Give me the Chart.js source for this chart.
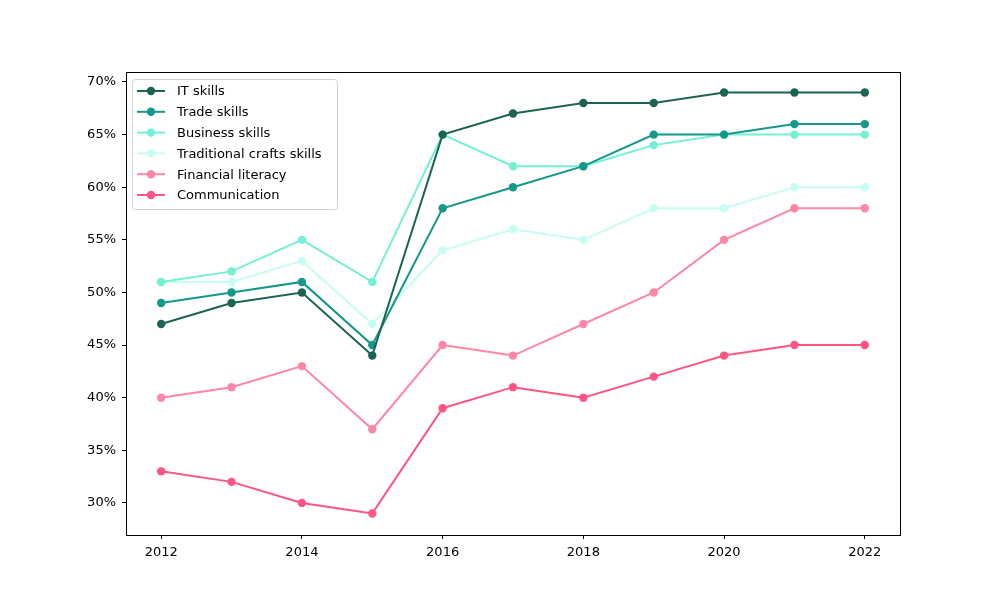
<!DOCTYPE html>
<html>
<head>
<meta charset="utf-8">
<script src="https://cdn.jsdelivr.net/npm/chart.js"></script>
<style>
  html, body { margin: 0; padding: 0; background: #fff; }
  #wrap { width: 1000px; height: 600px; }
</style>
</head>
<body>
<div id="wrap"><canvas id="chart" width="1000" height="600"></canvas></div>
<script>
// Skill shares by year (percent)
const years = [2012, 2013, 2014, 2015, 2016, 2017, 2018, 2019, 2020, 2021, 2022];
const itSkills = [47, 49, 50, 44, 65, 67, 68, 68, 69, 69, 69];
const tradeSkills = [49, 50, 51, 45, 58, 60, 62, 65, 65, 66, 66];
const businessSkills = [51, 52, 55, 51, 65, 62, 62, 64, 65, 65, 65];
const craftsSkills = [51, 51, 53, 47, 54, 56, 55, 58, 58, 60, 60];
const financialLiteracy = [40, 41, 43, 37, 45, 44, 47, 50, 55, 58, 58];
const communication = [33, 32, 30, 29, 39, 41, 40, 42, 44, 45, 45];

const seriesNames = ['IT skills', 'Trade skills', 'Business skills', 'Traditional crafts skills', 'Financial literacy', 'Communication'];
const seriesValues = [itSkills, tradeSkills, businessSkills, craftsSkills, financialLiteracy, communication];
const seriesColors = ['#1b6454', '#13988a', '#74f0d4', '#c6fdf4', '#ff86a4', '#ff5582'];

const xTicks = [2012, 2014, 2016, 2018, 2020, 2022];
const yTicks = [30, 35, 40, 45, 50, 55, 60, 65, 70];

const FONT = 'DejaVu Sans';

const datasets = seriesNames.map((name, i) => ({
    label: name,
    data: years.map((y, j) => ({ x: y, y: seriesValues[i][j] })),
    borderColor: seriesColors[i],
    backgroundColor: seriesColors[i],
    pointBackgroundColor: seriesColors[i],
    pointBorderColor: seriesColors[i],
    borderWidth: 2,
    pointRadius: 4.2,
    pointBorderWidth: 0,
    tension: 0
}));

// full box frame around the plot area, like matplotlib spines
const frame = {
    id: 'frame',
    afterDraw(chart) {
        const { ctx, chartArea: a } = chart;
        ctx.save();
        ctx.strokeStyle = '#000';
        ctx.lineWidth = 1;
        ctx.strokeRect(Math.round(a.left) + 0.5, Math.round(a.top) + 0.5,
            Math.round(a.right - a.left), Math.round(a.bottom - a.top));
        ctx.restore();
    }
};

// legend drawn inside the upper left corner
const insideLegend = {
    id: 'insideLegend',
    afterDraw(chart) {
        const { ctx, chartArea: a } = chart;
        const x0 = a.left + 6, y0 = a.top + 7;
        const w = 205, h = 130, rowH = 20.8;
        ctx.save();
        ctx.fillStyle = 'rgba(255,255,255,0.8)';
        ctx.strokeStyle = '#d0d0d0';
        ctx.lineWidth = 1;
        ctx.beginPath();
        ctx.roundRect(x0 + 0.5, y0 + 0.5, w, h, 3);
        ctx.fill();
        ctx.stroke();
        ctx.font = '13px "' + FONT + '"';
        ctx.textBaseline = 'middle';
        chart.data.datasets.forEach((ds, i) => {
            const cy = y0 + 12 + i * rowH;
            ctx.strokeStyle = ds.borderColor;
            ctx.lineWidth = 2;
            ctx.beginPath();
            ctx.moveTo(x0 + 5, cy);
            ctx.lineTo(x0 + 33, cy);
            ctx.stroke();
            ctx.fillStyle = ds.borderColor;
            ctx.beginPath();
            ctx.arc(x0 + 19, cy, 4.2, 0, Math.PI * 2);
            ctx.fill();
            ctx.fillStyle = '#000';
            ctx.fillText(ds.label, x0 + 45, cy + 1);
        });
        ctx.restore();
    }
};

new Chart(document.getElementById('chart'), {
    type: 'line',
    data: { datasets },
    options: {
        responsive: false,
        devicePixelRatio: 1,
        animation: false,
        layout: { padding: { left: 0, right: 100, top: 72, bottom: 0 } },
        plugins: { legend: { display: false }, tooltip: { enabled: false } },
        scales: {
            x: {
                type: 'linear',
                min: 2011.5,
                max: 2022.5,
                afterBuildTicks: s => { s.ticks = xTicks.map(v => ({ value: v })); },
                afterFit: s => { s.height = 65; },
                grid: { drawOnChartArea: false, drawTicks: true, tickLength: 4, color: '#000' },
                border: { display: true, color: '#000' },
                ticks: {
                    color: '#000',
                    font: { family: FONT, size: 13 },
                    padding: 6,
                    maxRotation: 0,
                    callback: v => String(v)
                }
            },
            y: {
                min: 26.95,
                max: 70.95,
                afterBuildTicks: s => { s.ticks = yTicks.map(v => ({ value: v })); },
                afterFit: s => { s.width = 126; },
                grid: { drawOnChartArea: false, drawTicks: true, tickLength: 4, color: '#000' },
                border: { display: true, color: '#000' },
                ticks: {
                    color: '#000',
                    font: { family: FONT, size: 13 },
                    padding: 6,
                    callback: v => v + '%'
                }
            }
        }
    },
    plugins: [frame, insideLegend]
});
</script>
</body>
</html>
